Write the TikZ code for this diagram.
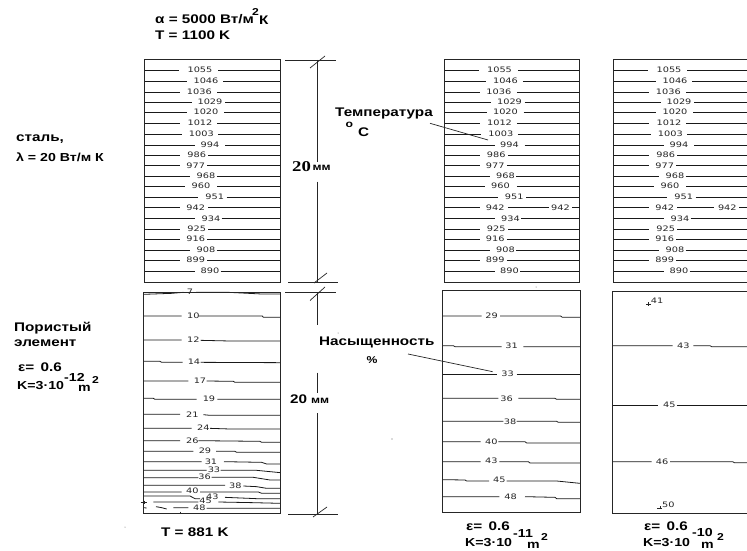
\documentclass[tikz,border=0pt]{standalone}
\usepackage{fontspec}
\setmainfont{Liberation Sans}
\newfontfamily\numf[FakeStretch=1.3]{DejaVu Sans}
\newfontfamily\bfw[FakeStretch=1.22]{Liberation Sans}
\newfontfamily\serb[FakeStretch=1.25]{Liberation Serif}
\tikzset{
 num/.style={inner sep=0pt,font=\numf\fontsize{7.5}{8}\selectfont,text=black!85},
 lab/.style={inner sep=0pt,anchor=west,font=\bfw\bfseries\fontsize{12.5}{13}\selectfont},
 mid/.style={inner sep=0pt,anchor=west,font=\bfw\bfseries\fontsize{11.6}{12}\selectfont},
 sub/.style={inner sep=0pt,anchor=west,font=\bfw\bfseries\fontsize{10}{11}\selectfont},
 iso/.style={line width=0.8pt,black!90},
 frame/.style={line width=1pt,black!85},
 dim/.style={line width=0.9pt,black!85},
 lead/.style={line width=0.7pt,black!85},
 zoomed/.style={x=0.33333pt,y=-0.33333pt}
}
\newcommand{\tempbox}[1]{%
\begin{scope}[shift={(#1,50)},zoomed]
\foreach \y/\t/\a/\b/\c in {
 60/1055/148/210/265, 94/1046/170/228/280, 127/1036/150/208/262, 157/1029/185/240/285,
 187/1020/172/228/282, 220/1012/150/210/262, 252/1003/155/214/265, 286/994/195/240/285,
 316/986/150/200/235, 347/977/150/197/232, 378/968/180/228/260, 409/960/165/213/262,
 442/951/205/254/290, 473/942/150/197/235, 506/934/195/243/275, 537/925/150/200/235,
 568/916/150/197/232, 600/908/180/228/260, 631/899/150/197/232, 663/890/195/240/272}{
 \draw[iso] (44,\y) -- (\a,\y) (\c,\y) -- (451,\y);
 \node[num] at (\b,\y-1) {\t};
}
\draw[frame] (44,30) rectangle (451,697);
\end{scope}}
\begin{document}
\begin{tikzpicture}[x=1pt,y=-1pt]
\clip (0,0) rectangle (747,551);
\fill[white] (0,0) rectangle (747,551);
% top boxes
\tempbox{130}
\tempbox{429.5}
\tempbox{599}
\begin{scope}[shift={(429.5,50)},zoomed]
 \fill[white] (320,465) rectangle (449,481);
 \draw[iso] (300,473) -- (358,473) (428,473) -- (451,473);
 \node[num] at (393,472) {942};
\end{scope}
\begin{scope}[shift={(599,50)},zoomed]
 \fill[white] (320,465) rectangle (449,481);
 \draw[iso] (300,473) -- (345,473) (420,473) -- (451,473);
 \node[num] at (385,472) {942};
\end{scope}
% porous box A
\begin{scope}[shift={(130,280)},zoomed]
 \draw[iso] (40,43)--(125,40)--(160,37) (198,37)--(295,37)--(395,42)--(451,42);
 \node[num] at (180,35) {7};
 \draw[iso] (40,108)--(155,108) (205,108)--(397,108)--(400,112)--(451,112);
 \node[num] at (190,107) {10};
 \draw[iso] (40,180)--(155,180) (212,181)--(300,183)--(451,183);
 \node[num] at (190,180) {12};
 \draw[iso] (40,244)--(90,244)--(95,247)--(158,247) (212,247)--(451,248);
 \node[num] at (192,246) {14};
 \draw[iso] (40,303)--(175,303) (230,303)--(310,304)--(315,307)--(451,307);
 \node[num] at (210,303) {17};
 \draw[iso] (40,355)--(70,355)--(75,358)--(200,358) (262,358)--(451,358);
 \node[num] at (237,356) {19};
 \draw[iso] (40,403)--(150,403) (220,404)--(240,406)--(451,406);
 \node[num] at (187,403) {21};
 \draw[iso] (40,445)--(185,445) (240,445)--(300,447)--(451,447);
 \node[num] at (220,444) {24};
 \draw[iso] (40,482)--(150,482) (205,482)--(390,484)--(395,487)--(451,487);
 \node[num] at (187,481) {26};
 \draw[iso] (40,514)--(190,514) (258,514)--(315,514)--(320,517)--(451,517);
 \node[num] at (225,512) {29};
 \draw[iso] (40,545)--(215,545) (282,545)--(395,547)--(410,552)--(451,552);
 \node[num] at (243,544) {31};
 \draw[iso] (40,571)--(230,571) (272,571)--(380,571)--(451,578);
 \node[num] at (252,568) {33};
 \draw[iso] (40,593)--(205,593) (245,592)--(370,592)--(420,600)--(451,600);
 \node[num] at (224,590) {36};
 \draw[iso] (40,616)--(285,616) (340,618)--(380,620)--(410,625)--(451,625);
 \node[num] at (316,616) {38};
 \draw[iso] (40,636)--(155,636) (210,636)--(385,636)--(395,640)--(451,640);
 \node[num] at (187,632) {40};
 \draw[iso] (40,648)--(180,648)--(195,656)--(210,656) (285,652)--(380,656)--(451,656);
 \node[num] at (247,650) {43};
 \draw[iso] (70,666)--(205,666) (265,666)--(370,668)--(451,670);
 \node[num] at (227,663) {45};
 \draw[iso] (40,683)--(50,684) (78,680)--(95,683)--(110,687) (130,683)--(175,683) (230,685)--(451,685);
 \node[num] at (208,682) {48};
 \draw[lead] (32,667)--(52,667) (42,662)--(42,672);
 \draw[lead] (150,695)--(150,700);
 \draw[frame] (40,36) rectangle (451,701);
\end{scope}
% porous box B, C
\begin{scope}[shift={(310,280)},zoomed]
 \draw[iso] (398,108)--(515,108) (570,108)--(752,108)--(757,112)--(810,112);
 \node[num] at (545,107) {29};
 \draw[iso] (398,197)--(430,197)--(435,200)--(575,200) (640,200)--(810,200);
 \node[num] at (605,198) {31};
 \draw[iso] (398,282)--(560,282) (620,282)--(810,282);
 \node[num] at (593,281) {33};
 \draw[iso] (398,355)--(565,355) (625,355)--(735,355)--(740,358)--(810,358);
 \node[num] at (590,355) {36};
 \draw[iso] (398,424)--(580,424) (620,424)--(740,424)--(745,427)--(810,427);
 \node[num] at (600,424) {38};
 \draw[iso] (398,485)--(512,485) (565,485)--(645,485)--(650,489)--(810,489);
 \node[num] at (544,486) {40};
 \draw[iso] (398,545)--(512,545) (568,545)--(655,545)--(660,549)--(810,549);
 \node[num] at (544,543) {43};
 \draw[iso] (398,599)--(465,600)--(470,603)--(537,603) (590,603)--(740,603)--(810,610);
 \node[num] at (568,598) {45};
 \draw[iso] (398,650)--(568,650) (645,650)--(735,652)--(740,656)--(810,656);
 \node[num] at (602,649) {48};
 \draw[frame] (398,32) rectangle (810,698);
 % C
 \node[num,anchor=west] at (1022,62) {41};
 \draw[lead] (1008,72)--(1022,72) (1015,66)--(1015,78);
 \draw[iso] (908,197)--(1088,197) (1150,197)--(1200,197)--(1205,200)--(1320,200);
 \node[num] at (1120,197) {43};
 \draw[iso] (908,375)--(1045,375) (1100,375)--(1320,375);
 \node[num] at (1078,373) {45};
 \draw[iso] (908,545)--(1025,545) (1080,545)--(1268,545)--(1273,548)--(1320,548);
 \node[num] at (1056,545) {46};
 \node[num] at (1075,673) {50};
 \draw[lead] (1042,684)--(1055,684) (1050,678)--(1050,688);
 \draw[frame] (908,35) rectangle (1330,701);
\end{scope}
% dimension lines
\coordinate (d1) at (317.7,60);
\coordinate (d2) at (317.7,282);
\coordinate (d3) at (317.7,292);
\coordinate (d4) at (317.7,514.5);
\draw[dim] (285,60)--(336,60) (288,282)--(338,282) (285,292)--(336,292) (288,514.5)--(338,514.5);
\draw[dim] (d1)--(317.7,161.7) (317.7,181.7)--(d2);
\draw[dim] (d3)--(317.7,325) (317.7,372.7)--(317.7,393) (317.7,413)--(d4);
\draw[lead] (310,68)--(325,56) (314,283)--(327,273) (310,300.5)--(325,287) (313,517)--(327,507);
% labels
\node[inner sep=0pt,anchor=west,font=\serb\bfseries\fontsize{15}{15}\selectfont] at (292,166.7) {20};
\node[sub,anchor=west] at (312.5,167.5) {мм};
\node[lab,anchor=west] at (290,399.3) {\fontsize{12.5}{13}\selectfont 20};
\node[sub,anchor=west] at (311,400.5) {мм};
\node[lab] (alpha) at (155,19.3) {α = 5000 Вт/м};
\node[sub] at (252,12) {2};
\node[lab] at (259,19.8) {К};
\node[lab] at (155,35) {T = 1100 K};
\node[lab] at (16,139) {сталь,};
\node[mid] (lam) at (16,157) {λ = 20 Вт/м К};
\node[lab] at (161,532) {T = 881 K};
\node[lab] (tempT) at (335,113.3) {Температура};
\node[sub] at (345.5,125) {o};
\node[lab] at (358,131.7) {C};
\coordinate (tempA) at (488,140);
\draw[lead] (430,123.3) -- (tempA);
\node[lab] at (319,342) {Насыщенность};
\node[inner sep=0pt,font=\bfw\bfseries\fontsize{10}{10}\selectfont] at (372,360) {\%};
\coordinate (satA) at (492.7,371.7);
\draw[lead] (408,354) -- (satA);
\node[lab] at (14,328) {Пористый};
\node[lab] at (14,343) {элемент};
\node[lab] at (18,367) {ε= \,0.6};
\node[mid] at (17,386) {K=3·10};
\node[mid] at (64,377) {-12};
\node[mid] at (78,388) {m};
\node[sub] at (92,380.5) {2};
\node[lab] at (466,525.7) {ε= \,0.6};
\node[mid] at (465,543) {K=3·10};
\node[mid] at (513,534) {-11};
\node[mid] at (527,545.5) {m};
\node[sub] at (541,537.5) {2};
\node[lab] at (644,525.7) {ε= \,0.6};
\node[mid] at (643,543) {K=3·10};
\node[mid] at (692,532.5) {-10};
\node[mid] at (701,545.5) {m};
\node[sub] at (717,537.5) {2};
% specks
\fill[black!60] (536,287) circle (.5) (392,439) circle (.6) (338,333) circle (.5) (125,527) circle (.5);
\end{tikzpicture}
\end{document}
